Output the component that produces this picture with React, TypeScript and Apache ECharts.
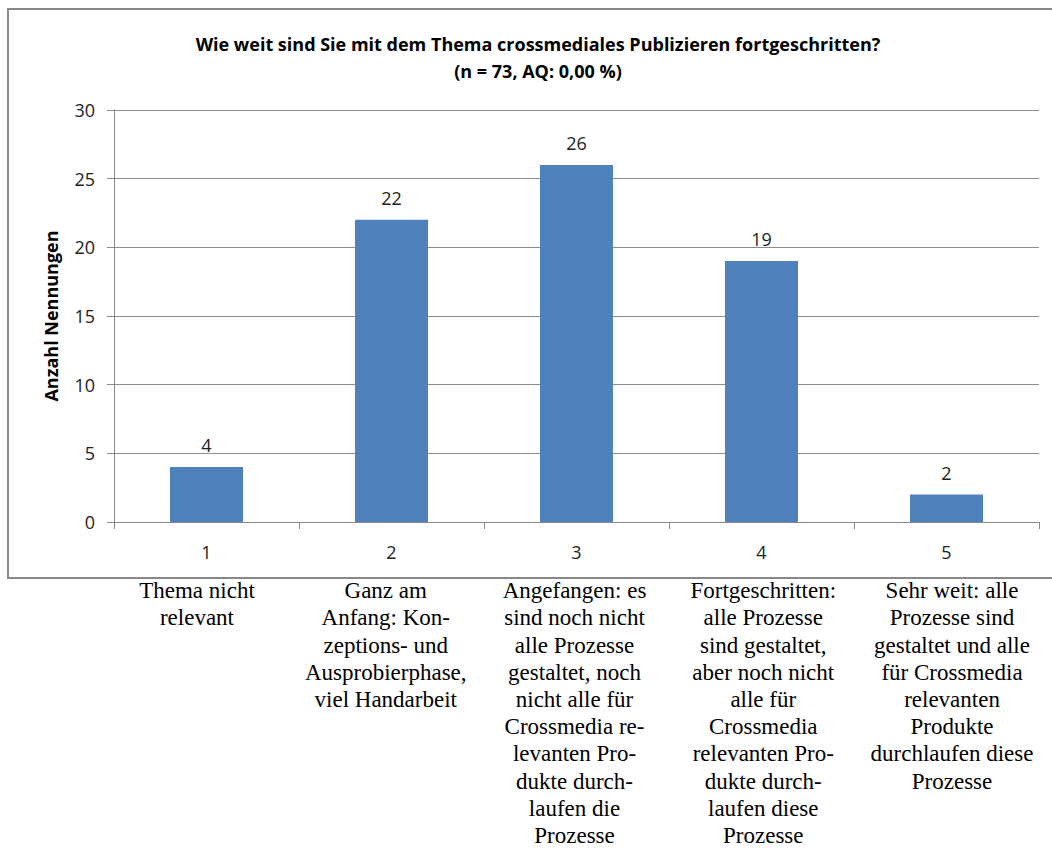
import React, { useEffect, useRef } from "react";
import * as echarts from "echarts";

const titleLines = [
  "Wie weit sind Sie mit dem Thema crossmediales Publizieren fortgeschritten?",
  "(n = 73, AQ: 0,00 %)",
];
const categories = ["1", "2", "3", "4", "5"];
const values = [4, 22, 26, 19, 2];
const yTicks = { min: 0, max: 30, interval: 5 };
const descriptions = [
  "Thema nicht\nrelevant",
  "Ganz am\nAnfang: Kon-\nzeptions- und\nAusprobierphase,\nviel Handarbeit",
  "Angefangen: es\nsind noch nicht\nalle Prozesse\ngestaltet, noch\nnicht alle für\nCrossmedia re-\nlevanten Pro-\ndukte durch-\nlaufen die\nProzesse",
  "Fortgeschritten:\nalle Prozesse\nsind gestaltet,\naber noch nicht\nalle für\nCrossmedia\nrelevanten Pro-\ndukte durch-\nlaufen diese\nProzesse",
  "Sehr weit: alle\nProzesse sind\ngestaltet und alle\nfür Crossmedia\nrelevanten\nProdukte\ndurchlaufen diese\nProzesse",
];
const yName = "Anzahl Nennungen";

const SANS = "Open Sans";
const SERIF = "Liberation Serif";

export default function App() {
  const ref = useRef<HTMLDivElement>(null);
  useEffect(() => {
    document.body.style.margin = "0";
    const chart = echarts.init(ref.current!, null, { renderer: "svg" });
    chart.setOption({
      animation: false,
      backgroundColor: "#ffffff",
      title: {
        text: titleLines.join("\n"),
        left: 533,
        top: 25,
        textAlign: "center",
        textStyle: {
          fontFamily: SANS,
          fontWeight: "bold",
          fontSize: 18,
          lineHeight: 27,
          color: "#000",
        },
      },
      graphic: [
        {
          type: "rect",
          shape: { x: 8, y: 9, width: 1100, height: 569 },
          style: { fill: "none", stroke: "#888888", lineWidth: 2 },
          silent: true,
          z: -1,
        },
      ],
      grid: [
        { left: 114, top: 110, right: 13, bottom: 327 },
        { left: 102.6, top: 110, right: 5.6, bottom: 327 },
      ],
      xAxis: [
        {
          type: "category",
          gridIndex: 0,
          data: categories,
          axisLine: { lineStyle: { color: "#888888", width: 1 } },
          axisTick: { show: true, length: 7, lineStyle: { color: "#888888" } },
          axisLabel: {
            fontFamily: SANS,
            fontSize: 18,
            color: "#222",
            margin: 21,
          },
        },
        {
          type: "category",
          gridIndex: 1,
          data: descriptions,
          axisLine: { show: false },
          axisTick: { show: false },
          axisLabel: {
            interval: 0,
            fontFamily: SERIF,
            fontSize: 23,
            lineHeight: 27.2,
            color: "#000",
            margin: 57,
            align: "center",
          },
        },
      ],
      yAxis: [
        {
          type: "value",
          gridIndex: 0,
          min: yTicks.min,
          max: yTicks.max,
          interval: yTicks.interval,
          name: yName,
          nameLocation: "middle",
          nameRotate: 90,
          nameGap: 54,
          nameTextStyle: {
            fontFamily: SANS,
            fontWeight: "bold",
            fontSize: 18,
            color: "#000",
          },
          axisLine: { show: true, lineStyle: { color: "#888888", width: 1 } },
          axisTick: { show: true, length: 7, lineStyle: { color: "#888888" } },
          splitLine: { show: true, lineStyle: { color: "#8c8c8c", width: 1 } },
          axisLabel: {
            fontFamily: SANS,
            fontSize: 18,
            color: "#222",
            margin: 19,
          },
        },
        {
          type: "value",
          gridIndex: 1,
          show: false,
          min: 0,
          max: 30,
        },
      ],
      series: [
        {
          type: "bar",
          xAxisIndex: 0,
          yAxisIndex: 0,
          data: values,
          barWidth: 73,
          itemStyle: { color: "#4F81BD" },
          label: {
            show: true,
            position: "top",
            distance: 13,
            fontFamily: SANS,
            fontSize: 18,
            color: "#222",
          },
        },
      ],
    });
    return () => chart.dispose();
  }, []);
  return <div ref={ref} style={{ width: 1052, height: 849 }} />;
}
